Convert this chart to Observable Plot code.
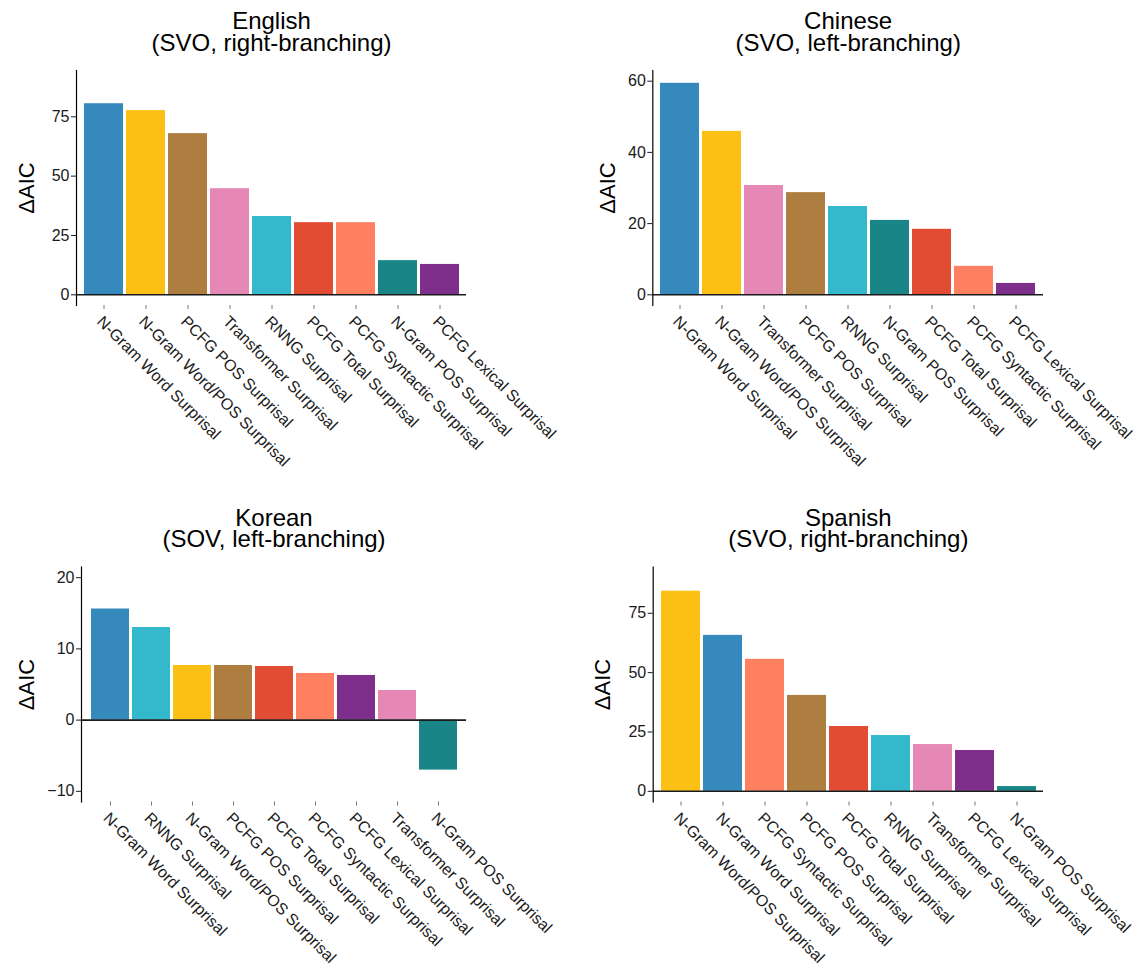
<!DOCTYPE html>
<html>
<head>
<meta charset="utf-8">
<script src="https://cdn.jsdelivr.net/npm/d3@7"></script>
<script src="https://cdn.jsdelivr.net/npm/@observablehq/plot@0.6"></script>
<style>
  body { margin: 0; background: #fff; }
  #chart { position: relative; width: 1140px; height: 965px; background: #fff; }
  .panel { position: absolute; }
</style>
</head>
<body>
<div id="chart"></div>
<script>
// Surprisal predictors and their fixed colours (shared by every panel)
const models = [
  "N-Gram Word Surprisal",
  "N-Gram Word/POS Surprisal",
  "PCFG POS Surprisal",
  "Transformer Surprisal",
  "RNNG Surprisal",
  "PCFG Total Surprisal",
  "PCFG Syntactic Surprisal",
  "N-Gram POS Surprisal",
  "PCFG Lexical Surprisal"
];
const palette = ["#3589bd", "#fcbf14", "#ae7e40", "#e688b5", "#33b9cb", "#e24c33", "#fe8061", "#198587", "#7e2e8b"];

// English (SVO, right-branching)
const englishOrder = [
  "N-Gram Word Surprisal", "N-Gram Word/POS Surprisal", "PCFG POS Surprisal",
  "Transformer Surprisal", "RNNG Surprisal", "PCFG Total Surprisal",
  "PCFG Syntactic Surprisal", "N-Gram POS Surprisal", "PCFG Lexical Surprisal"
];
const englishAIC = [80.5, 77.6, 67.9, 44.7, 33.0, 30.4, 30.4, 14.4, 12.8];
const englishTicks = [0, 25, 50, 75];

// Chinese (SVO, left-branching)
const chineseOrder = [
  "N-Gram Word Surprisal", "N-Gram Word/POS Surprisal", "Transformer Surprisal",
  "PCFG POS Surprisal", "RNNG Surprisal", "N-Gram POS Surprisal",
  "PCFG Total Surprisal", "PCFG Syntactic Surprisal", "PCFG Lexical Surprisal"
];
const chineseAIC = [59.4, 45.9, 30.7, 28.7, 24.8, 20.9, 18.4, 8.0, 3.2];
const chineseTicks = [0, 20, 40, 60];

// Korean (SOV, left-branching)
const koreanOrder = [
  "N-Gram Word Surprisal", "RNNG Surprisal", "N-Gram Word/POS Surprisal",
  "PCFG POS Surprisal", "PCFG Total Surprisal", "PCFG Syntactic Surprisal",
  "PCFG Lexical Surprisal", "Transformer Surprisal", "N-Gram POS Surprisal"
];
const koreanAIC = [15.6, 13.0, 7.67, 7.67, 7.53, 6.55, 6.27, 4.16, -7.02];
const koreanTicks = [-10, 0, 10, 20];

// Spanish (SVO, right-branching)
const spanishOrder = [
  "N-Gram Word/POS Surprisal", "N-Gram Word Surprisal", "PCFG Syntactic Surprisal",
  "PCFG POS Surprisal", "PCFG Total Surprisal", "RNNG Surprisal",
  "Transformer Surprisal", "PCFG Lexical Surprisal", "N-Gram POS Surprisal"
];
const spanishAIC = [84.3, 65.7, 55.6, 40.4, 27.3, 23.5, 19.7, 17.2, 2.0];
const spanishTicks = [0, 25, 50, 75];

const yLabel = "ΔAIC";
const font = '"Liberation Sans", Arial, Helvetica, sans-serif';

function panel({title, order, values, domain, ticks, left, top, height,
                marginLeft, marginRight, marginTop, marginBottom, labelOffset}) {
  const data = order.map((model, i) => ({model, value: values[i]}));
  const svg = Plot.plot({
    width: 570,
    height,
    marginLeft, marginRight, marginTop, marginBottom,
    style: {fontFamily: font, background: "transparent", overflow: "visible", color: "#1a1a1a"},
    x: {domain: order, paddingInner: 0.08, paddingOuter: 0.14, label: null},
    y: {domain, label: null},
    color: {domain: models, range: palette},
    marks: [
      Plot.barY(data, {x: "model", y: "value", fill: "model"}),
      Plot.ruleY([0], {stroke: "#1a1a1a", strokeWidth: 1.6}),
      Plot.frame({anchor: "left", stroke: "#000", strokeWidth: 1.2}),
      Plot.axisY({ticks, tickSize: 5, tickPadding: 2, fontSize: 16, color: "#1a1a1a", label: null}),
      Plot.axisX({tickRotate: 45, textAnchor: "start", lineAnchor: "top", tickSize: 4, tickPadding: 5,
                  fontSize: 16, color: "#1a1a1a", stroke: "#777", label: null}),
      // rotated y-axis title, centred on the panel height
      Plot.text([yLabel], {text: d => d, frameAnchor: "left", rotate: -90, textAnchor: "middle",
                           lineAnchor: "bottom", dx: -labelOffset, fontSize: 22, fill: "#000"}),
      // two-line panel title above the frame
      Plot.text([title], {text: d => d, frameAnchor: "top", textAnchor: "middle", lineAnchor: "bottom",
                          dy: -20, fontSize: 24, lineHeight: 0.88, fill: "#000"})
    ]
  });
  const wrap = document.createElement("div");
  wrap.className = "panel";
  wrap.style.left = left + "px";
  wrap.style.top = top + "px";
  wrap.appendChild(svg);
  document.getElementById("chart").appendChild(wrap);
}

panel({title: "English\n(SVO, right-branching)", order: englishOrder, values: englishAIC,
       domain: [-4.5, 94.5], ticks: englishTicks, left: 0, top: 0, height: 482,
       marginLeft: 76, marginRight: 104, marginTop: 70, marginBottom: 177, labelOffset: 43});
panel({title: "Chinese\n(SVO, left-branching)", order: chineseOrder, values: chineseAIC,
       domain: [-3, 63], ticks: chineseTicks, left: 570, top: 0, height: 482,
       marginLeft: 82.3, marginRight: 97, marginTop: 70, marginBottom: 177, labelOffset: 38});
panel({title: "Korean\n(SOV, left-branching)", order: koreanOrder, values: koreanAIC,
       domain: [-11.5, 21.5], ticks: koreanTicks, left: 0, top: 482, height: 483,
       marginLeft: 81, marginRight: 104, marginTop: 84.5, marginBottom: 163.5, labelOffset: 48});
panel({title: "Spanish\n(SVO, right-branching)", order: spanishOrder, values: spanishAIC,
       domain: [-4.5, 94.5], ticks: spanishTicks, left: 570, top: 482, height: 483,
       marginLeft: 82.7, marginRight: 97, marginTop: 84.5, marginBottom: 163.5, labelOffset: 43});
</script>
</body>
</html>
